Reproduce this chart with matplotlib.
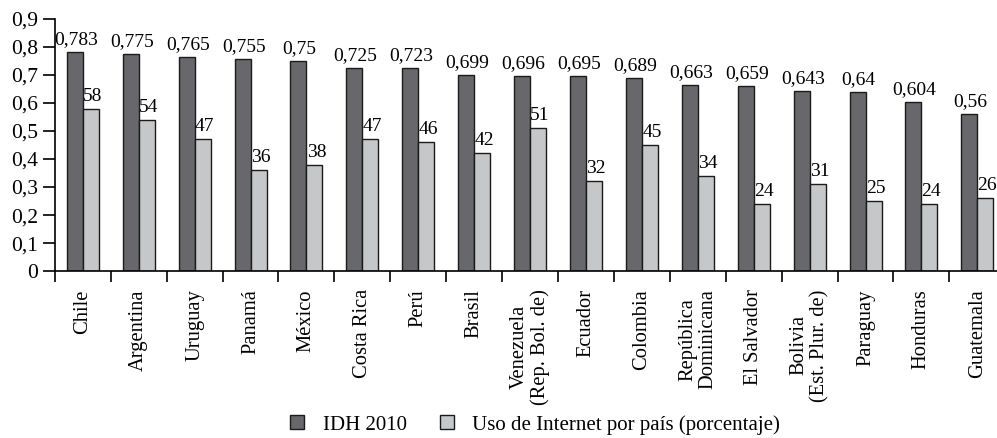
import numpy as np
import matplotlib
matplotlib.use('Agg')
import matplotlib.pyplot as plt
from matplotlib.patches import Patch

paises = ['Chile', 'Argentina', 'Uruguay', 'Panamá', 'México', 'Costa Rica', 'Perú',
          'Brasil', 'Venezuela\n(Rep. Bol. de)', 'Ecuador', 'Colombia',
          'República\nDominicana', 'El Salvador', 'Bolivia\n(Est. Plur. de)',
          'Paraguay', 'Honduras', 'Guatemala']
idh_2010 = [0.783, 0.775, 0.765, 0.755, 0.75, 0.725, 0.723, 0.699, 0.696, 0.695,
            0.689, 0.663, 0.659, 0.643, 0.64, 0.604, 0.56]
uso_internet = [58, 54, 47, 36, 38, 47, 46, 42, 51, 32, 45, 34, 24, 31, 25, 24, 26]
y_ticks = [0, 0.1, 0.2, 0.3, 0.4, 0.5, 0.6, 0.7, 0.8, 0.9]

plt.rcParams['font.family'] = ['Liberation Serif', 'DejaVu Serif']

fig = plt.figure(figsize=(9.97, 4.38), dpi=100)
ax = fig.add_axes([0.055, 0.381, 0.945, 0.576])

x = np.arange(len(paises))
w = 0.286
oscuro = '#68686c'
claro = '#c6c7c9'
internet = np.array(uso_internet) / 100

ax.bar(x - w / 2, idh_2010, w, color=oscuro, edgecolor='#1a1a1a', linewidth=1)
ax.bar(x + w / 2, internet, w, color=claro, edgecolor='#1a1a1a', linewidth=1)

# etiquetas de valores
for i in range(len(paises)):
    ax.text(x[i] - w / 2 + 0.02, idh_2010[i] + 0.014, str(idh_2010[i]).replace('.', ','),
            ha='center', va='bottom', fontsize=14, clip_on=False)
    ax.text(x[i] + w / 2 + 0.035, internet[i] + 0.014, str(uso_internet[i]),
            ha='center', va='bottom', fontsize=14, clip_on=False)

ax.set_yticks(y_ticks)
ax.set_yticklabels([('%g' % t).replace('.', ',') for t in y_ticks], fontsize=15.5)

ax.set_xticks(x)
ax.set_xticklabels(paises, rotation=90, fontsize=14.8, multialignment='center',
                   linespacing=1.1)
# marcas entre grupos (solo las que caben)
ax.set_xticks(np.arange(len(paises)) - 0.5, minor=True)
ax.tick_params(axis='x', which='major', length=0, pad=13)
ax.tick_params(axis='x', which='minor', length=8, width=1.2, direction='out')
ax.tick_params(axis='y', length=9, width=1.2, direction='out', pad=3)

# limites despues de los ticks para que no se expandan
ax.set_xlim(-0.5, (997 - 55) / 55.9 - 0.5)
ax.set_ylim(0, 0.9)

for s in ['top', 'right']:
    ax.spines[s].set_visible(False)
ax.spines['left'].set_linewidth(1.2)
ax.spines['bottom'].set_linewidth(1.2)

handles = [Patch(facecolor=oscuro, edgecolor='#1a1a1a', label='IDH 2010'),
           Patch(facecolor=claro, edgecolor='#1a1a1a', label='Uso de Internet por país (porcentaje)')]
fig.legend(handles=handles, loc='center', bbox_to_anchor=(0.537, 0.03), ncol=2,
           frameon=False, fontsize=15, handlelength=0.65, handleheight=0.65,
           handletextpad=0.9, columnspacing=1.6, borderpad=0, borderaxespad=0)

plt.savefig('out.png', dpi=100)
